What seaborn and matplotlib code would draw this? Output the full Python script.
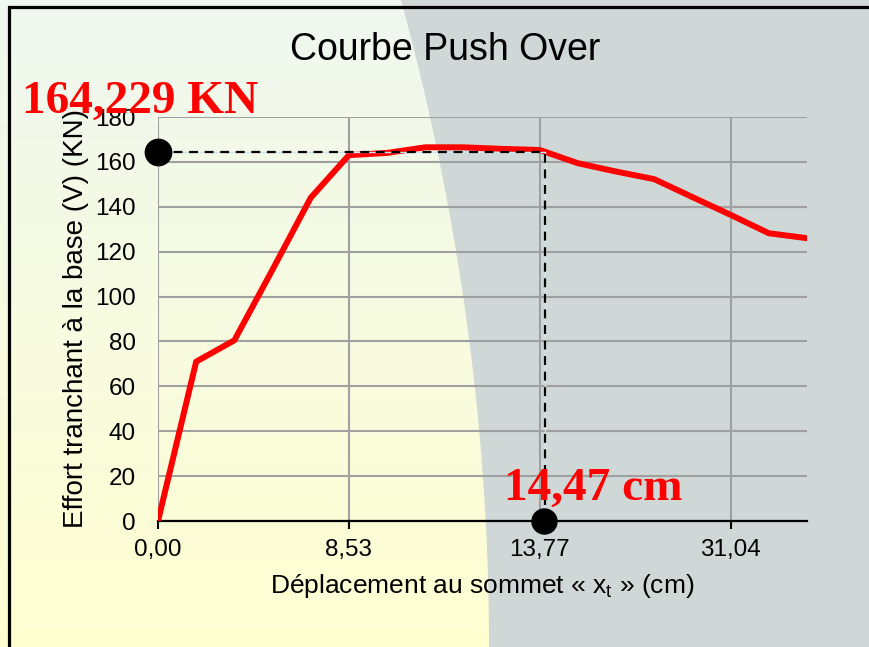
import numpy as np
import pandas as pd
import seaborn as sns
import matplotlib
import matplotlib.pyplot as plt

matplotlib.use('Agg')

# --- data ---
point_index = list(range(18))
effort = [0, 71, 80.5, 112, 144, 163, 164, 166.5, 166.5, 165.8, 165.3,
          159.4, 155.7, 152.3, 144.3, 136.4, 128.2, 126]
tick_pos = [0, 5, 10, 15]
tick_labels = ["0,00", "8,53", "13,77", "31,04"]
y_ticks = list(range(0, 181, 20))
peak_x = 10.15
peak_effort = 164.229
label_effort = "164,229 KN"
label_disp = "14,47 cm"

W, H = 870, 647
plt.rcParams['font.family'] = ['Liberation Sans', 'DejaVu Sans']

fig = plt.figure(figsize=(W / 100, H / 100), dpi=100)

# background: green/yellow gradient on the left, grey panel on the right
bg = fig.add_axes([0, 0, 1, 1], zorder=0)
top_c = np.array([0.94, 0.97, 0.94])
bot_c = np.array([1.0, 1.0, 0.82])
t = np.linspace(0, 1, 200)[:, None, None]
grad = top_c * (1 - t) + bot_c * t
grad = np.repeat(grad, 2, axis=1)
bg.imshow(grad, extent=[0, W, H, 0], aspect='auto')
yy = np.linspace(0, H, 100)
xb = 401 + 88 * (1 - (1 - yy / H) ** 2)
bg.fill_betweenx(yy, xb, W, color='#cfd8d6', lw=0)
bg.plot([9, 9, W + 5], [H + 5, 7, 7], color='black', lw=2.3, solid_joinstyle='miter')
bg.set_xlim(0, W)
bg.set_ylim(H, 0)
bg.axis('off')

ax = fig.add_axes([158 / W, 1 - 521 / H, 649 / W, 404 / H], zorder=1)
ax.set_facecolor('none')

df = pd.DataFrame({"idx": point_index, "effort": effort})
sns.lineplot(data=df, x="idx", y="effort", ax=ax, color='#ff0000', lw=4.3, zorder=3)

# dashed guide lines to the target point
ax.plot([0, peak_x, peak_x], [peak_effort, peak_effort, 0], color='#cce4f0', lw=1, zorder=3.5)
ax.plot([0, peak_x, peak_x], [peak_effort, peak_effort, 0], color='black', lw=1.6,
        dashes=(4, 3), zorder=4)
ax.plot([0], [peak_effort], 'o', color='black', ms=19, clip_on=False, zorder=5)
ax.plot([peak_x - 0.05], [0], 'o', color='black', ms=18, clip_on=False, zorder=5)

ax.set_xlim(0, 17)
ax.set_ylim(0, 180)
ax.set_xticks(tick_pos)
ax.set_xticklabels(tick_labels)
ax.set_yticks(y_ticks)
ax.grid(True, color='#a0a0a0', lw=1.5)
ax.set_axisbelow(True)
for s in ['top', 'right', 'left']:
    ax.spines[s].set_visible(False)
ax.spines['bottom'].set_color('black')
ax.spines['bottom'].set_linewidth(1.6)
ax.spines['bottom'].set_zorder(2.5)
ax.tick_params(axis='x', length=6, width=1.5, direction='out', pad=7, labelsize=17.5)
ax.tick_params(axis='y', length=0, pad=16, labelsize=17.5)

ax.set_xlabel("Déplacement au sommet « x$_\\mathregular{t}$ » (cm)", fontsize=19, labelpad=8)
ax.set_ylabel("Effort tranchant à la base (V) (KN)", fontsize=20, labelpad=4)

fig.text(445 / W, 1 - 50 / H, "Courbe Push Over", fontsize=27, ha='center', va='center')

red_font = dict(family=['Liberation Serif', 'DejaVu Serif'], weight='bold', color='#ff0000',
                fontsize=34)
fig.text(22 / W, 1 - 113 / H, label_effort, ha='left', va='baseline', zorder=10, **red_font)
fig.text(504 / W, 1 - 500 / H, label_disp, ha='left', va='baseline', zorder=10, **red_font)

plt.savefig('out.png', dpi=100)
